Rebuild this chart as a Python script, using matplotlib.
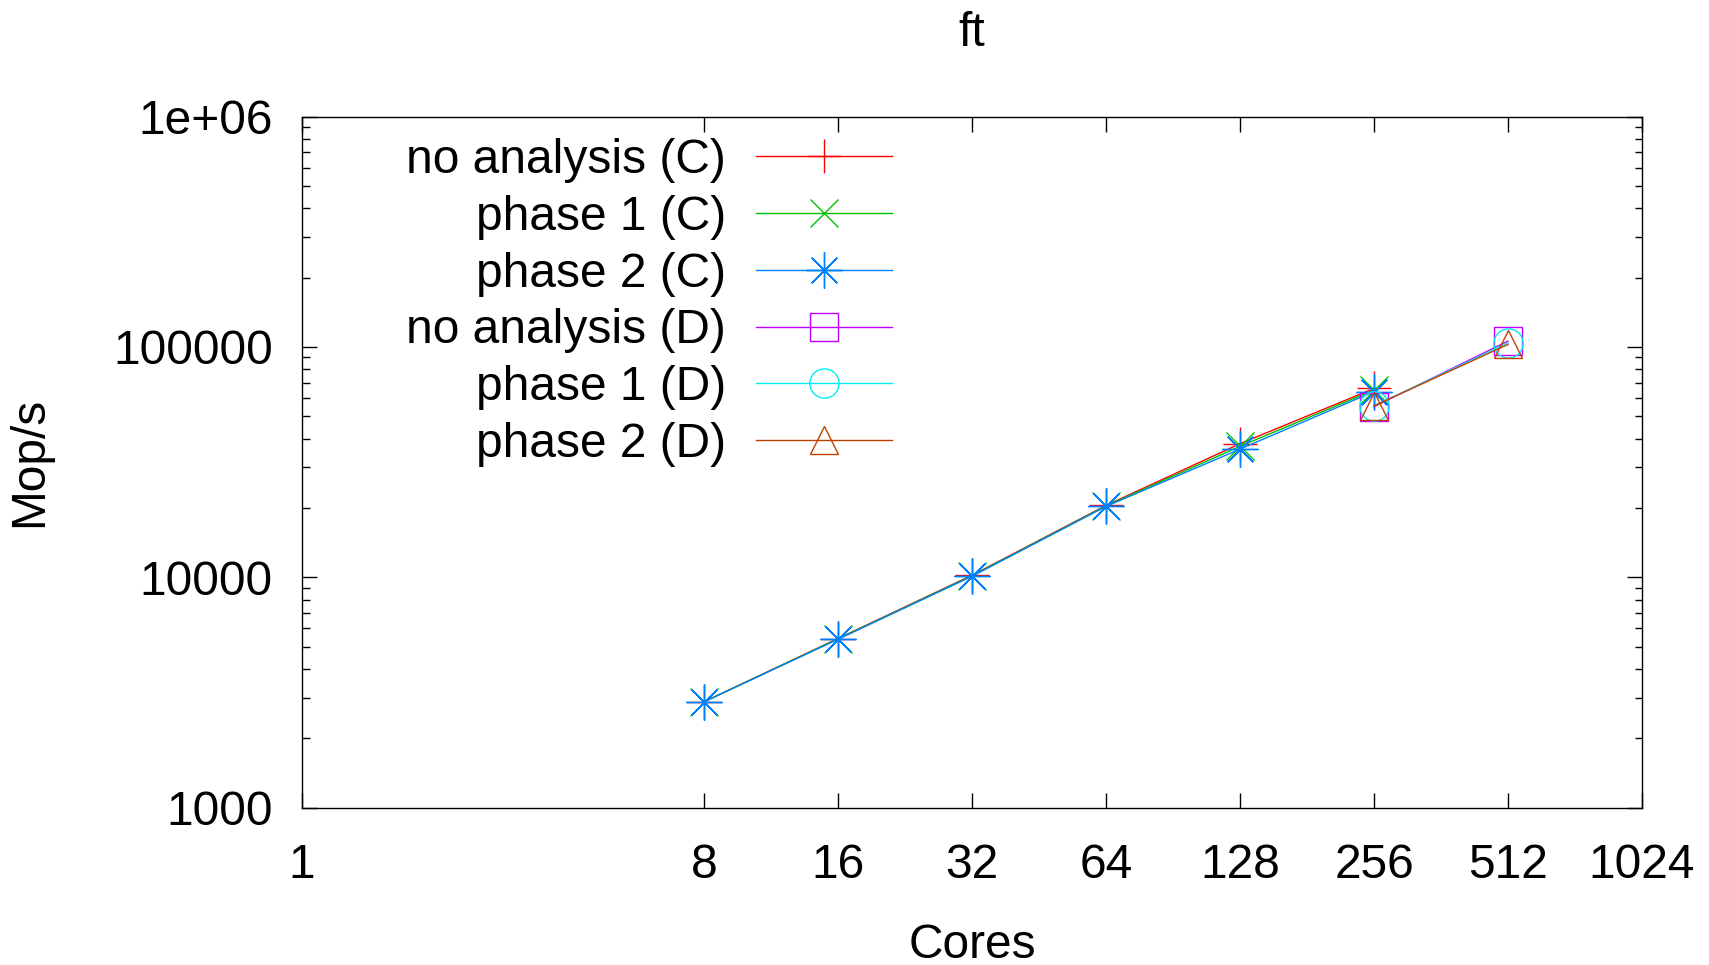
import numpy as np
import matplotlib
matplotlib.use('Agg')
import matplotlib.pyplot as plt

plt.rcParams['font.family'] = ['Liberation Sans', 'DejaVu Sans']

## data
cores_c = [8, 16, 32, 64, 128, 256]
noana_c = [2880, 5420, 10200, 20500, 38000, 66000]
phase1_c = [2880, 5400, 10150, 20400, 37000, 65000]
phase2_c = [2880, 5380, 10100, 20300, 36000, 64000]

cores_d = [256, 512]
noana_d = [55000, 106000]
phase1_d = [55500, 104000]
phase2_d = [55500, 102500]

xticks = [1, 8, 16, 32, 64, 128, 256, 512, 1024]
yticks = [1000, 10000, 100000, 1000000]
ylabels = ['1000', '10000', '100000', '1e+06']

fs = 34.5

fig = plt.figure(figsize=(17.09, 9.65), dpi=100)
ax = fig.add_axes([0.1767, 0.1631, 0.9608 - 0.1767, 0.8792 - 0.1631])

ax.plot(cores_c, noana_c, color='#ff0000', lw=1.0, marker='+', ms=24, mew=1.0, label='no analysis (C)')
ax.plot(cores_c, phase1_c, color='#00c000', lw=1.0, marker='x', ms=20, mew=1.0, label='phase 1 (C)')
ax.plot(cores_c, phase2_c, color='#0080ff', lw=1.0, marker=(8, 2, 0), ms=26, mew=1.0, label='phase 2 (C)')
ax.plot(cores_d, noana_d, color='#c000ff', lw=1.0, marker='s', ms=20, mew=1.0, mfc='none', label='no analysis (D)')
ax.plot(cores_d, phase1_d, color='#00eeee', lw=1.0, marker='o', ms=21, mew=1.0, mfc='none', label='phase 1 (D)')
ax.plot(cores_d, phase2_d, color='#c04000', lw=1.0, marker='^', ms=20, mew=1.0, mfc='none', label='phase 2 (D)')

ax.set_xscale('log', base=2)
ax.set_yscale('log')
ax.set_xlim(1, 1024)
ax.set_ylim(1000, 1e6)
ax.set_xticks(xticks)
ax.set_xticklabels([str(v) for v in xticks])
ax.xaxis.set_minor_locator(matplotlib.ticker.NullLocator())
ax.set_yticks(yticks)
ax.set_yticklabels(ylabels)
ax.yaxis.set_minor_locator(matplotlib.ticker.LogLocator(base=10, subs=np.arange(2, 10)))
ax.yaxis.set_minor_formatter(matplotlib.ticker.NullFormatter())

ax.tick_params(which='both', direction='in', top=True, right=True, width=1.0, color='black')
ax.tick_params(which='major', length=10.8)
ax.tick_params(which='minor', length=5.4)
ax.tick_params(axis='x', which='major', labelsize=fs, pad=25.5)
ax.tick_params(axis='y', which='major', labelsize=fs, pad=21)
for s in ax.spines.values():
    s.set_linewidth(1.0)

ax.set_title('ft', fontsize=fs, pad=51)
ax.set_xlabel('Cores', fontsize=fs, labelpad=25)
ax.set_ylabel('Mop/s', fontsize=fs, labelpad=44)

leg = ax.legend(loc='upper right', bbox_to_anchor=(0.4403, 0.969), frameon=False, markerfirst=False,
                numpoints=1, fontsize=fs, handlelength=2.84, handletextpad=0.62, labelspacing=0.246,
                borderpad=0, borderaxespad=0)

plt.savefig('out.png', dpi=100)
